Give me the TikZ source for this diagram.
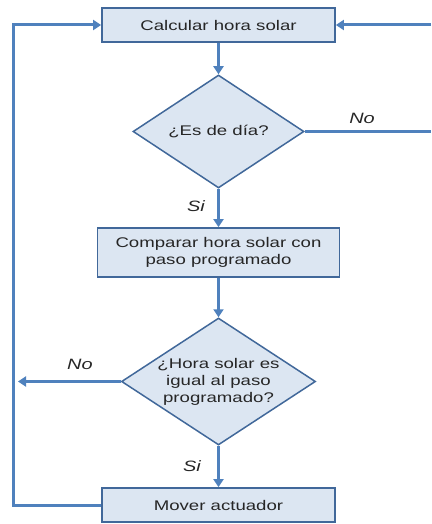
\documentclass[tikz,border=0pt]{standalone}
\usepackage{fontspec}
\setmainfont[FakeStretch=1.33]{Liberation Sans}
\usetikzlibrary{shapes.geometric,arrows.meta}
\definecolor{conn}{HTML}{4F81BD}
\definecolor{boxfill}{HTML}{DCE6F2}
\definecolor{boxline}{HTML}{41689A}
\definecolor{txt}{HTML}{262626}
\tikzset{
  procbox/.style={rectangle, draw=boxline, fill=boxfill, line width=1.8pt, inner sep=0pt,
    font=\fontsize{14}{16.5}\selectfont, text=txt, align=center},
  decbox/.style={diamond, draw=boxline, fill=boxfill, line width=1.5pt, inner sep=0pt,
    font=\fontsize{14}{17}\selectfont, text=txt, align=center},
  link/.style={draw=conn, line width=3pt},
  linkarrow/.style={link, -{Triangle[width=10pt,length=8pt]}},
  lbl/.style={font=\fontsize{15}{17}\selectfont\itshape, text=txt, inner sep=0pt}
}
\begin{document}
\begin{tikzpicture}[x=1pt,y=-1pt]
\useasboundingbox (0,0) rectangle (431,524);
\node[procbox, minimum width=233pt, minimum height=34pt] (b1) at (218.5,25) {Calcular hora solar};
\node[decbox, aspect=1.51, minimum width=171pt, minimum height=113pt] (d1) at (218.5,131.5) {¿Es de día?};
\node[procbox, minimum width=242pt, minimum height=49pt] (b2) at (218.5,252.5) {Comparar hora solar con\\paso programado};
\node[decbox, aspect=1.53, minimum width=194pt, minimum height=127pt] (d2) at (218.5,381.5) {¿Hora solar es\\igual al paso\\programado?};
\node[procbox, minimum width=233pt, minimum height=34pt] (b3) at (218.5,505) {Mover actuador};
\coordinate (r1) at (431,131.5);
\coordinate (r2) at (431,25);
\coordinate (l2) at (18,381.5);
\coordinate (lc) at (13,505);
\draw[linkarrow] (b1.south) -- (d1.north);
\draw[linkarrow] (d1.south) -- (b2.north);
\draw[linkarrow] (b2.south) -- (d2.north);
\draw[linkarrow] (d2.south) -- (b3.north);
\draw[link] (d1.east) -- (r1);
\draw[linkarrow] (r2) -- (b1.east);
\draw[linkarrow] (d2.west) -- (l2);
\draw[linkarrow] (b3.west) -- (lc) |- (b1.west);
\node[lbl] (no1) at (362,118) {No};
\node[lbl] (si1) at (196,206) {Si};
\node[lbl] (no2) at (80,364) {No};
\node[lbl] (si2) at (192,466) {Si};
\end{tikzpicture}
\end{document}
